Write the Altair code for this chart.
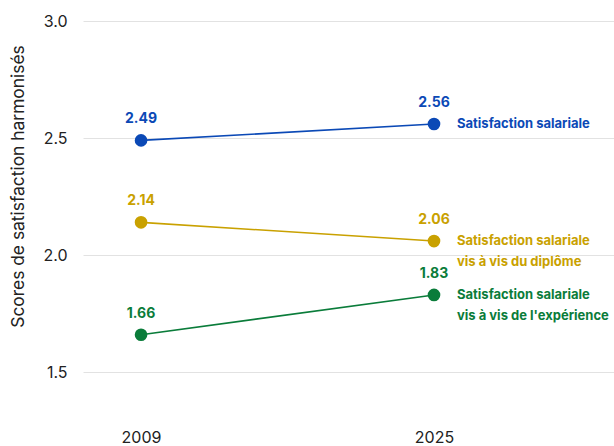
import altair as alt
import pandas as pd

years = [2009, 2025]
series = ["Satisfaction salariale",
          "Satisfaction salariale vis à vis du diplôme",
          "Satisfaction salariale vis à vis de l'expérience"]
end_labels = ["Satisfaction salariale",
              "Satisfaction salariale\nvis à vis du diplôme",
              "Satisfaction salariale\nvis à vis de l'expérience"]
values_2009 = [2.49, 2.14, 1.66]
values_2025 = [2.56, 2.06, 1.83]
colors = ["#0B49B6", "#C9A100", "#0A7C3A"]

rows = []
for s, v1, v2 in zip(series, values_2009, values_2025):
    rows.append({"serie": s, "annee": years[0], "score": v1})
    rows.append({"serie": s, "annee": years[1], "score": v2})
df = pd.DataFrame(rows)
df["lbl"] = df["score"].map(lambda v: f"{v:.2f}")

end_df = pd.DataFrame({"serie": series, "annee": [years[1]] * 3,
                       "score": values_2025, "txt": end_labels})

xscale = alt.Scale(domain=[2005.83, 2034.83], nice=False, zero=False)
yscale = alt.Scale(domain=[1.3, 3.0], nice=False, zero=False)
color = alt.Color("serie:N", scale=alt.Scale(domain=series, range=colors), legend=None)

x = alt.X("annee:Q", scale=xscale,
          axis=alt.Axis(values=years, format="d", title=None, grid=False, domain=False,
                        ticks=False, labelPadding=10, labelFontSize=16,
                        labelColor="#222222", labelFont="Inter"))
y = alt.Y("score:Q", scale=yscale,
          axis=alt.Axis(values=[1.5, 2.0, 2.5, 3.0], format=".1f",
                        title="Scores de satisfaction harmonisés",
                        titleFontSize=17.4, titleFontWeight="normal", titleColor="#222222",
                        titleFont="Inter", titlePadding=15, titleY=165,
                        grid=True, gridColor="#e2e2e2", gridWidth=1,
                        domain=False, ticks=False, labelPadding=16,
                        labelFontSize=16, labelColor="#222222", labelFont="Inter"))

base = alt.Chart(df)
lines = base.mark_line(strokeWidth=1.6).encode(x=x, y=y, color=color, detail="serie:N")
points = base.mark_circle(size=160, opacity=1).encode(x=x, y=y, color=color)
vals = base.mark_text(dy=-21, fontSize=14, fontWeight="bold", font="Inter",
                      baseline="middle").encode(x=x, y=y, color=color, text="lbl:N")
ends = alt.Chart(end_df).mark_text(align="left", baseline="middle", dx=23, fontSize=13,
                                   fontWeight="bold", font="Inter", lineBreak="\n",
                                   lineHeight=21).encode(
    x=alt.X("annee:Q", scale=xscale), y=alt.Y("score:Q", scale=yscale),
    color=color, text="txt:N")

chart = alt.layer(lines, points, vals, ends).properties(
    width=531, height=398,
    autosize=alt.AutoSizeParams(type="none"),
    padding={"left": 83, "top": 21, "right": 0, "bottom": 27},
    background="white"
).configure_view(stroke=None)

chart.save("out.html", embed_options={"renderer": "svg", "actions": False})
